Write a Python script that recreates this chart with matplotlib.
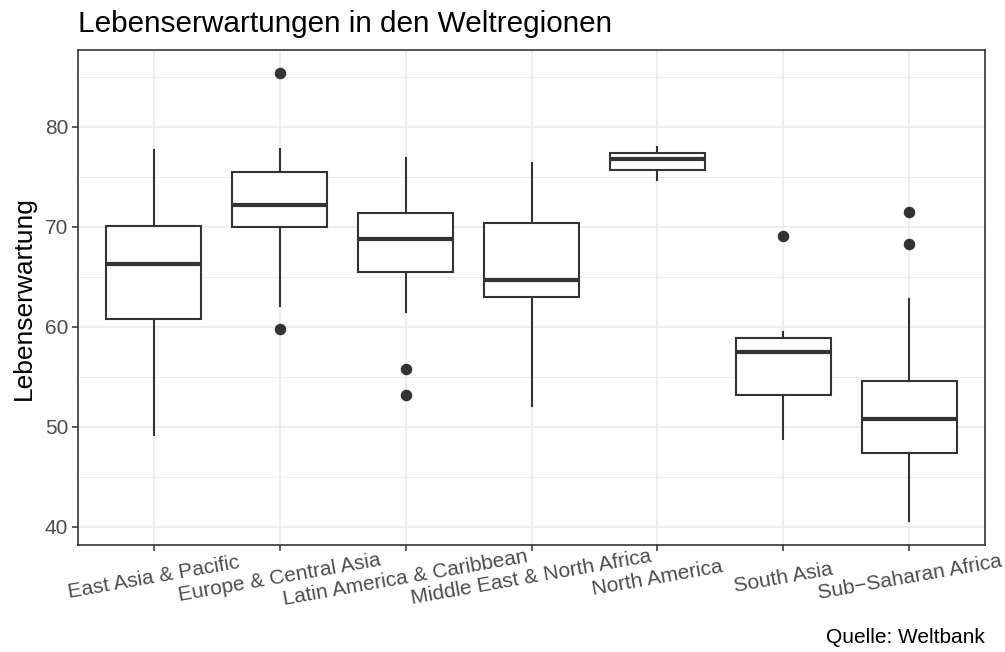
import numpy as np
import matplotlib.pyplot as plt

regions = ['East Asia & Pacific', 'Europe & Central Asia', 'Latin America & Caribbean',
           'Middle East & North Africa', 'North America', 'South Asia', 'Sub\u2212Saharan Africa']
whis_lo = [49.2, 62.1, 61.5, 52.1, 74.7, 48.8, 40.6]
q1 = [60.8, 70.0, 65.5, 63.0, 75.7, 53.2, 47.4]
median = [66.3, 72.2, 68.8, 64.7, 76.8, 57.5, 50.8]
q3 = [70.1, 75.5, 71.4, 70.4, 77.4, 58.9, 54.6]
whis_hi = [77.7, 77.8, 76.9, 76.4, 78.0, 59.5, 62.8]
outliers = [[], [85.4, 59.8], [55.8, 53.2], [], [], [69.1], [71.5, 68.3]]

plt.rcParams['font.family'] = ['Liberation Sans', 'DejaVu Sans']

fig = plt.figure(figsize=(10.05, 6.52), dpi=100)
ax = fig.add_axes([78/1005, 1-545/652, 907/1005, 495/652])

stats = []
for i, r in enumerate(regions):
    stats.append(dict(label=r, whislo=whis_lo[i], q1=q1[i], med=median[i],
                      q3=q3[i], whishi=whis_hi[i], fliers=outliers[i]))

pos = np.arange(1, len(regions) + 1)
dark = '#333333'
ax.bxp(stats, positions=pos, widths=0.75, showcaps=False, patch_artist=True,
       boxprops=dict(facecolor='white', edgecolor=dark, linewidth=1.5),
       whiskerprops=dict(color=dark, linewidth=1.5),
       medianprops=dict(color=dark, linewidth=3),
       flierprops=dict(marker='o', markerfacecolor=dark, markeredgecolor=dark,
                       markersize=7.3), zorder=3)

ax.set_xlim(0.4, 7.6)
ax.set_ylim(38.2, 87.7)
ax.set_yticks([40, 50, 60, 70, 80])
ax.set_yticks([45, 55, 65, 75, 85], minor=True)
ax.set_xticks(pos)
ax.set_xticklabels(regions, rotation=10, ha='center', va='center', fontsize=15, color='#4D4D4D')
ax.tick_params(axis='x', which='major', pad=19.5)
ax.tick_params(axis='y', labelsize=15, labelcolor='#4D4D4D', pad=3)
ax.tick_params(axis='both', which='major', length=4, color=dark, width=1.1)
ax.tick_params(axis='y', which='minor', length=0)
ax.grid(True, which='major', color='#EBEBEB', linewidth=1.2, zorder=0)
ax.grid(True, which='minor', axis='y', color='#EBEBEB', linewidth=0.6, zorder=0)
ax.set_axisbelow(True)
for s in ax.spines.values():
    s.set_color(dark)
    s.set_linewidth(1.2)

fig.text(23.5/1005, 1-298/652, 'Lebenserwartung', fontsize=19, rotation=90,
         ha='center', va='center')
fig.text(78/1005, 1-32/652, 'Lebenserwartungen in den Weltregionen', fontsize=21.4,
         ha='left', va='baseline')
fig.text(985/1005, 1-643/652, 'Quelle: Weltbank', fontsize=15, ha='right', va='baseline')

fig.savefig('out.png', dpi=100)
